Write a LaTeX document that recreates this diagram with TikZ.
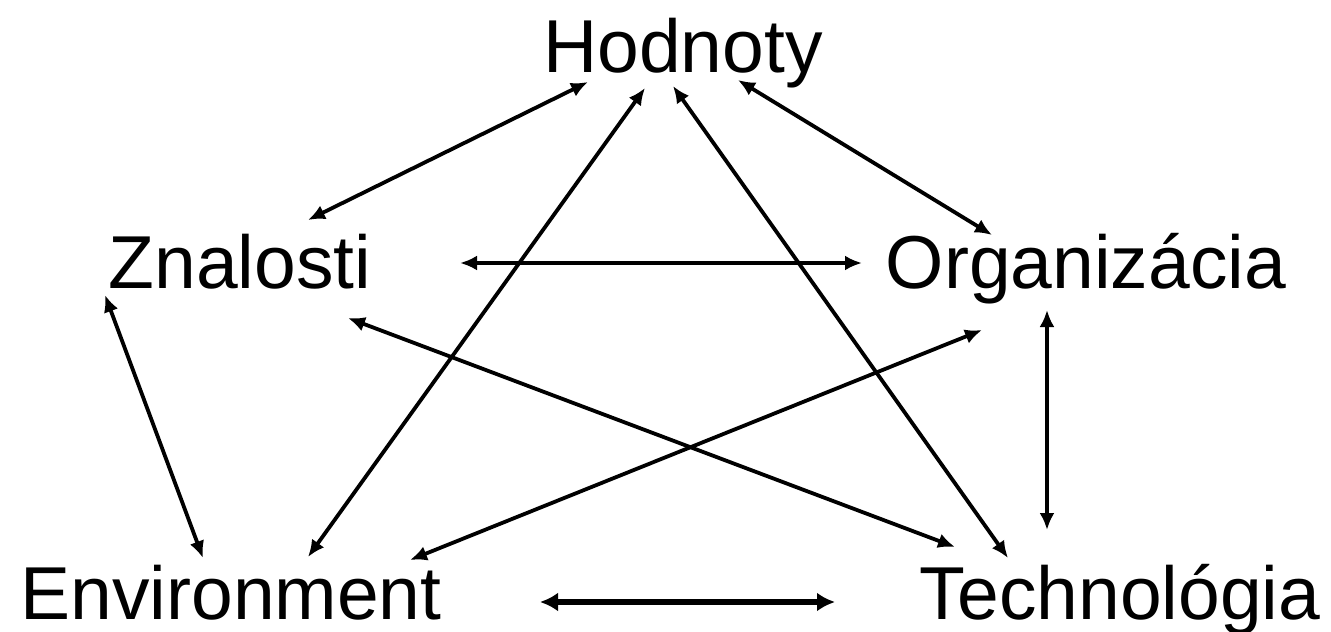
\documentclass[tikz,border=0pt]{standalone}
\usepackage{fontspec}
\setmainfont{Liberation Sans}
\usepackage{tikz}
\usetikzlibrary{arrows.meta}

\begin{document}
\begin{tikzpicture}[
    x=1pt, y=-1pt,
    lbl/.style={font=\fontsize{75}{80}\selectfont, inner sep=0pt, anchor=base},
    arr/.style={{Latex[length=17pt,width=15pt]}-{Latex[length=17pt,width=15pt]}, line width=3.8pt},
    bold arr/.style={{Latex[length=18pt,width=19pt]}-{Latex[length=18pt,width=19pt]}, line width=6pt}
  ]
    \useasboundingbox (0,0) rectangle (1331,632);

    \node[lbl] (hod)  at (683,72)  {Hodnoty};
    \node[lbl] (zna)  at (240,288) {Znalosti};
    \node[lbl] (org)  at (1086,288) {Organizácia};
    \node[lbl] (env)  at (231,619) {Environment};
    \node[lbl] (tech) at (1120,619) {Technológia};

    % from the top
    \draw[arr] ([xshift=-95pt,yshift=-10pt]hod.base) -- ([xshift=68pt,yshift=68pt]zna.base);
    \draw[arr] ([xshift=55pt,yshift=-8pt]hod.base)   -- ([xshift=-94pt,yshift=53pt]org.base);
    \draw[arr] ([xshift=-38pt,yshift=-16pt]hod.base) -- ([xshift=77pt,yshift=62pt]env.base);
    \draw[arr] ([xshift=-10pt,yshift=-14pt]hod.base) -- ([xshift=-112pt,yshift=61pt]tech.base);

    % middle row
    \draw[arr] ([xshift=220pt,yshift=25pt]zna.base)  -- ([xshift=-224pt,yshift=25pt]org.base);
    \draw[arr] ([xshift=108pt,yshift=-30pt]zna.base) -- ([xshift=-165pt,yshift=72pt]tech.base);
    \draw[arr] ([xshift=-135pt,yshift=-7pt]zna.base) -- ([xshift=-28pt,yshift=61pt]env.base);
    \draw[arr] ([xshift=-104pt,yshift=-42pt]org.base) -- ([xshift=179pt,yshift=59pt]env.base);
    \draw[arr] ([xshift=-39pt,yshift=-22pt]org.base) -- ([xshift=-73pt,yshift=89pt]tech.base);

    % bottom row
    \draw[bold arr] ([xshift=309pt,yshift=17pt]env.base) -- ([xshift=-285pt,yshift=17pt]tech.base);
\end{tikzpicture}
\end{document}
